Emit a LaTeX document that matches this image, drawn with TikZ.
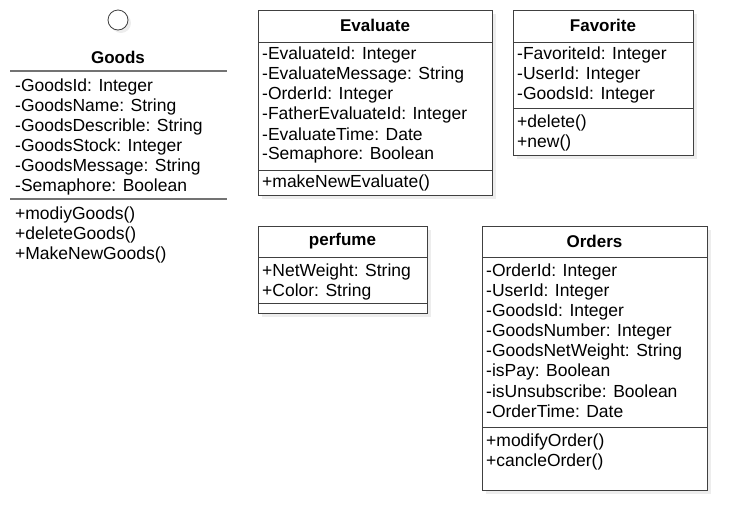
\documentclass[tikz,border=0pt]{standalone}
\usepackage{fontspec}
\setmainfont{Liberation Sans}
\usetikzlibrary{shadows}
\tikzset{
  classbox/.style={draw=black!75,fill=white,line width=0.8pt,anchor=north west,inner sep=0pt,
    drop shadow={shadow xshift=4pt,shadow yshift=-4pt,fill=black!7,opacity=1}},
  cname/.style={font=\bfseries\fontsize{17}{20}\selectfont},
  member/.style={anchor=west,inner sep=0pt,yshift=-1.5pt,font=\fontsize{17.5}{20}\selectfont},
  sepline/.style={draw=black!75,line width=0.8pt}
}
\begin{document}
\begin{tikzpicture}[x=1pt,y=-1pt]
  \useasboundingbox (0,0) rectangle (747,531);
  % Goods
  \node [circle,draw=black!75,fill=white,line width=0.8pt,minimum size=20pt,inner sep=0pt,
    drop shadow={shadow xshift=3pt,shadow yshift=-3pt,fill=black!7,opacity=1}] (goodsicon) at (118,20) {};
  \node [cname] (goods) at (118,57) {Goods};
  \draw [sepline,draw=black!55,line width=1.2pt] (10,71)--(227,71);
  \draw [sepline,draw=black!55,line width=1.2pt] (10,199)--(227,199);
  \foreach \t [count=\i from 0] in {-GoodsId: Integer,-GoodsName: String,-GoodsDescrible: String,-GoodsStock: Integer,-GoodsMessage: String,-Semaphore: Boolean}
    \node [member] (goodsattr\i) at (15,85+20*\i) {\t};
  \foreach \t [count=\i from 0] in {+modiyGoods(),+deleteGoods(),+MakeNewGoods()}
    \node [member] (goodsop\i) at (15,213+20*\i) {\t};

  % Evaluate
  \node [classbox,minimum width=234pt,minimum height=185pt] (evaluate) at (258,10) {};
  \node [cname] (evaluatename) at (375,25) {Evaluate};
  \draw [sepline] (258,42)--(492,42);
  \draw [sepline] (258,170)--(492,170);
  \foreach \t [count=\i from 0] in {-EvaluateId: Integer,-EvaluateMessage: String,-OrderId: Integer,-FatherEvaluateId: Integer,-EvaluateTime: Date,-Semaphore: Boolean}
    \node [member] (evalattr\i) at (262,53+20*\i) {\t};
  \node [member] (evalop0) at (262,181) {+makeNewEvaluate()};

  % Favorite
  \node [classbox,minimum width=180pt,minimum height=145pt] (favorite) at (513,10) {};
  \node [cname] (favoritename) at (603,25) {Favorite};
  \draw [sepline] (513,42)--(693,42);
  \draw [sepline] (513,108)--(693,108);
  \foreach \t [count=\i from 0] in {-FavoriteId: Integer,-UserId: Integer,-GoodsId: Integer}
    \node [member] (favattr\i) at (517,53+20*\i) {\t};
  \foreach \t [count=\i from 0] in {+delete(),+new()}
    \node [member] (favop\i) at (517,121+20*\i) {\t};

  % perfume
  \node [classbox,minimum width=169pt,minimum height=87pt] (perfume) at (258,226) {};
  \node [cname] (perfumename) at (342.5,241) {perfume};
  \draw [sepline] (258,257)--(427,257);
  \draw [sepline] (258,303)--(427,303);
  \foreach \t [count=\i from 0] in {+NetWeight: String,+Color: String}
    \node [member] (perfattr\i) at (262,270+20*\i) {\t};

  % Orders
  \node [classbox,minimum width=225pt,minimum height=264pt] (orders) at (482,226) {};
  \node [cname] (ordersname) at (594.5,241) {Orders};
  \draw [sepline] (482,257)--(707,257);
  \draw [sepline] (482,427)--(707,427);
  \foreach \t [count=\i from 0] in {-OrderId: Integer,-UserId: Integer,-GoodsId: Integer,-GoodsNumber: Integer,-GoodsNetWeight: String,-isPay: Boolean,-isUnsubscribe: Boolean,-OrderTime: Date}
    \node [member] (ordattr\i) at (486,270+20*\i) {\t};
  \foreach \t [count=\i from 0] in {+modifyOrder(),+cancleOrder()}
    \node [member] (ordop\i) at (486,440+20*\i) {\t};
\end{tikzpicture}
\end{document}
